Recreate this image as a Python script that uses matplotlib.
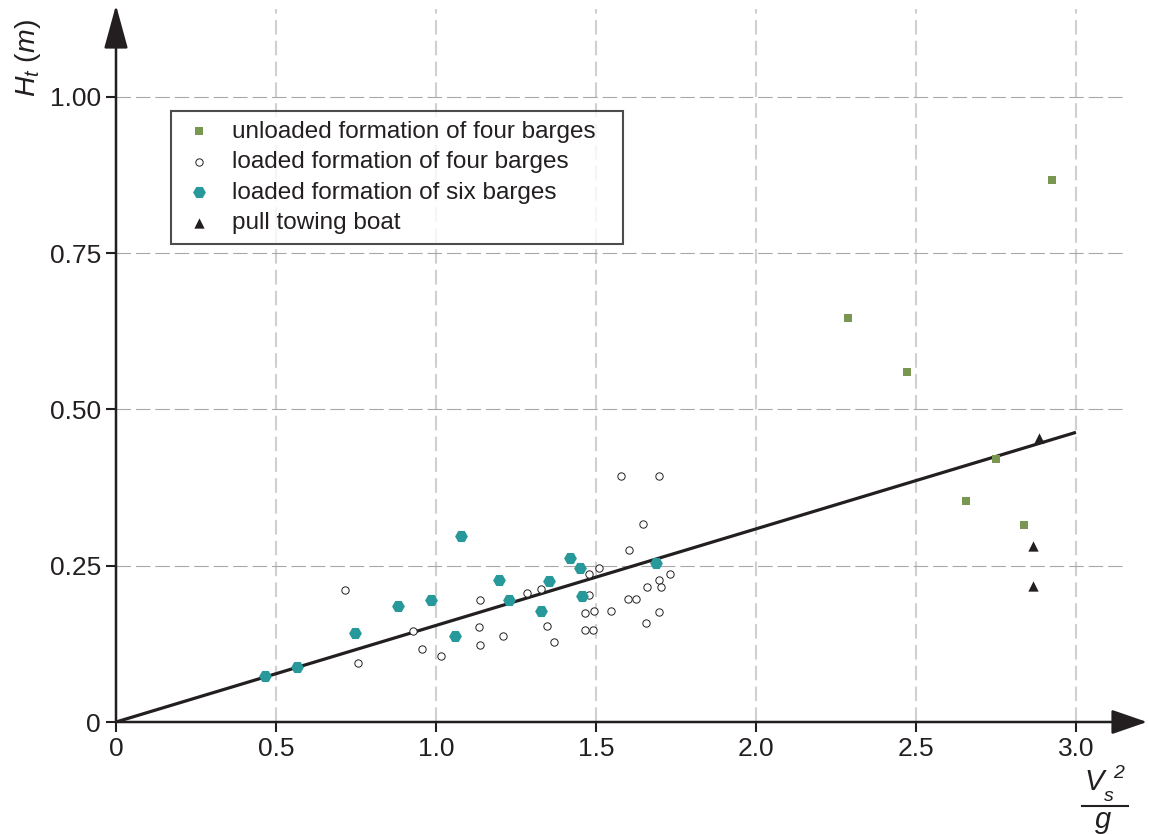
import matplotlib
matplotlib.use('Agg')
import matplotlib.pyplot as plt
from matplotlib.lines import Line2D

plt.rcParams['font.family'] = ['Liberation Sans', 'DejaVu Sans']
plt.rcParams['mathtext.fontset'] = 'custom'
plt.rcParams['mathtext.rm'] = 'Liberation Sans'
plt.rcParams['mathtext.it'] = 'Liberation Sans:italic'

INK = '#231f20'

# unloaded formation of four barges
unloaded4_x = [2.288, 2.473, 2.657, 2.750, 2.836, 2.924]
unloaded4_y = [0.646, 0.560, 0.354, 0.420, 0.315, 0.867]

# loaded formation of four barges
loaded4_x = [1.577, 1.698, 1.647, 1.603, 1.510, 1.479, 1.731, 1.697, 1.658, 1.702,
             0.715, 1.283, 1.329, 1.479, 1.136, 1.599, 1.625, 1.466, 1.495, 1.548,
             1.696, 0.929, 1.135, 1.346, 1.467, 1.492, 1.655, 0.957, 1.210, 1.136,
             1.368, 1.017, 0.755]
loaded4_y = [0.394, 0.394, 0.317, 0.276, 0.246, 0.237, 0.237, 0.228, 0.216, 0.216,
             0.211, 0.206, 0.213, 0.204, 0.196, 0.197, 0.197, 0.175, 0.177, 0.177,
             0.176, 0.145, 0.152, 0.154, 0.147, 0.147, 0.158, 0.117, 0.137, 0.123,
             0.128, 0.105, 0.094]

# loaded formation of six barges
loaded6_x = [0.466, 0.566, 0.748, 0.880, 0.985, 1.079, 1.059, 1.198, 1.229, 1.354,
             1.329, 1.419, 1.449, 1.457, 1.688]
loaded6_y = [0.074, 0.088, 0.143, 0.185, 0.196, 0.298, 0.137, 0.227, 0.196, 0.225,
             0.177, 0.262, 0.246, 0.201, 0.255]

# pull towing boat
towing_x = [2.884, 2.865, 2.865]
towing_y = [0.454, 0.281, 0.218]

# fitted line
fit_x = [0.0, 3.0]
fit_y = [0.0, 0.4635]

xticks = [0, 0.5, 1.0, 1.5, 2.0, 2.5, 3.0]
xlabels = ['0', '0.5', '1.0', '1.5', '2.0', '2.5', '3.0']
yticks = [0, 0.25, 0.5, 0.75, 1.0]
ylabels = ['0', '0.25', '0.50', '0.75', '1.00']

W, H = 1149, 834
fig = plt.figure(figsize=(W / 100, H / 100), dpi=100)
ax = fig.add_axes([116 / W, 112 / H, 1008 / W, 712.5 / H])
ax.set_xlim(0, 3.15)
ax.set_ylim(0, 1.14)

for s in ax.spines.values():
    s.set_visible(False)

ax.set_xticks(xticks)
ax.set_xticklabels(xlabels)
ax.set_yticks(yticks)
ax.set_yticklabels(ylabels)
ax.tick_params(direction='out', length=7.2, width=1.5, color=INK,
               labelsize=19, labelcolor=INK, pad=3.6)

ax.xaxis.grid(True, color='#d0d0d0', lw=1.5, ls=(0, (7, 3)))
ax.yaxis.grid(True, color='#a8a8a8', lw=0.8, ls=(0, (13, 4.5)))
ax.set_axisbelow(True)

# axes with arrow heads
ax.annotate('', xy=(3.222, 0), xytext=(0, 0), annotation_clip=False,
            arrowprops=dict(arrowstyle='-|>,head_length=1.1,head_width=0.38',
                            mutation_scale=20, lw=1.8, color=INK,
                            shrinkA=0, shrinkB=0))
ax.annotate('', xy=(0, 1.147), xytext=(0, 0), annotation_clip=False,
            arrowprops=dict(arrowstyle='-|>,head_length=1.35,head_width=0.37',
                            mutation_scale=20, lw=1.8, color=INK,
                            shrinkA=0, shrinkB=0))

ax.plot(fit_x, fit_y, color=INK, lw=2.3, zorder=3, solid_capstyle='butt')

ax.scatter(unloaded4_x, unloaded4_y, marker='s', s=36, color='#7a9752',
           linewidths=0, zorder=4, label='unloaded formation of four barges')
ax.scatter(loaded4_x, loaded4_y, marker='o', s=28, facecolors='white',
           edgecolors=INK, linewidths=0.7, zorder=4,
           label='loaded formation of four barges')
ax.scatter(loaded6_x, loaded6_y, marker='H', s=85, color='#27999a',
           linewidths=0, zorder=4, label='loaded formation of six barges')
ax.scatter(towing_x, towing_y, marker='^', s=55, color=INK,
           linewidths=0, zorder=4, label='pull towing boat')

leg = ax.legend(loc='upper left',
                bbox_to_anchor=(171 / W, 1 - 243 / H, 452 / W, 132 / H),
                bbox_transform=fig.transFigure, borderaxespad=0, mode='expand',
                fontsize=17.5, frameon=True, fancybox=False,
                borderpad=0.4, handlelength=1.5, handletextpad=0.61,
                labelspacing=0.35)
leg.get_frame().set_edgecolor(INK)
leg.get_frame().set_linewidth(1.5)
for t in leg.get_texts():
    t.set_color(INK)

# y label
fig.text(28 / W, 1 - 58 / H, r'$H_t\ (m)$', rotation=90, ha='center',
         va='center', fontsize=20.5, color=INK)

# x label as a fraction V_s^2 / g
fig.text(1094 / W, 1 - 790 / H, 'V', style='italic', fontsize=21,
         ha='center', va='baseline', color=INK)
fig.text(1104 / W, 1 - 801 / H, 's', style='italic', fontsize=14,
         ha='left', va='baseline', color=INK)
fig.text(1113 / W, 1 - 778 / H, '2', style='italic', fontsize=14,
         ha='left', va='baseline', color=INK)
fig.add_artist(Line2D([1082 / W, 1128 / W], [1 - 806 / H, 1 - 806 / H],
                      transform=fig.transFigure, color=INK, lw=1.5))
fig.text(1103 / W, 1 - 828 / H, 'g', style='italic', fontsize=21,
         ha='center', va='baseline', color=INK)

fig.savefig('out.png', dpi=100)
